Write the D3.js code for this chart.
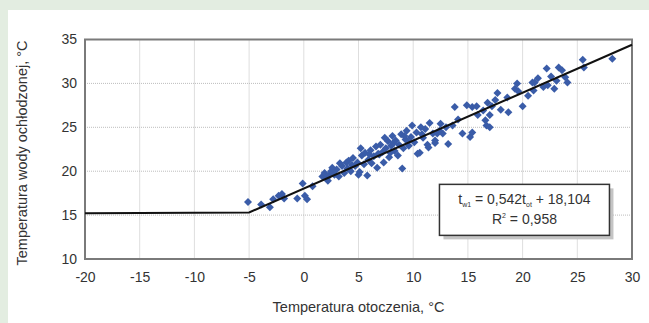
<!DOCTYPE html>
<html>
<head>
<meta charset="utf-8">
<script src="https://cdn.jsdelivr.net/npm/d3@7"></script>
<style>
  body { margin: 0; background: #e3ede1; }
  svg { display: block; }
  text { font-family: "Liberation Sans", Arial, sans-serif; fill: #333; }
</style>
</head>
<body>
<div id="chart"></div>
<script>
// measured points: temperatura otoczenia (x) vs temperatura wody (y)
const tOt = [-5.1,-3.9,-3.1,-2.8,-2.3,-2.0,-1.8,-0.6,-0.1,0.3,0.1,0.8,1.7,1.9,2.1,2.3,2.5,2.2,2.8,3.0,
  3.2,3.5,3.7,4.0,4.1,4.3,4.5,4.7,4.9,5.0,5.1,5.3,5.5,5.6,5.8,5.9,6.1,6.2,6.4,6.6,
  6.7,6.9,7.0,7.2,7.3,7.5,7.7,7.8,8.0,8.1,8.3,8.4,8.6,8.7,8.9,9.0,9.1,9.3,9.4,9.6,
  9.8,9.9,10.1,10.3,10.4,10.6,10.7,10.9,11.1,11.3,11.4,11.5,11.8,12.0,12.0,12.2,12.5,12.7,13.0,13.2,
  13.6,13.8,14.1,14.5,14.9,15.2,15.4,15.4,15.8,15.9,16.4,16.6,16.7,17.0,17.2,17.5,17.7,18.6,18.7,19.3,
  19.5,19.6,20.0,20.9,21.1,21.4,21.9,22.2,22.3,22.9,23.1,23.3,23.6,23.9,24.1,25.5,25.6,28.2,
  2.6,3.9,5.2,6.0,7.4,8.2,9.5,10.8,12.4,6.8,4.4,3.3,7.9,9.2,17.0,16.8,18.0,21.0,22.6,20.5];
const tW = [16.5,16.2,15.9,16.8,17.2,17.4,16.9,16.9,18.6,16.8,17.2,18.3,19.4,19.8,19.2,19.5,20.0,18.9,19.6,20.2,
  19.4,20.6,19.8,20.3,21.2,20.0,21.5,20.6,21.0,19.6,19.9,21.8,20.8,22.1,19.5,21.3,22.4,20.9,21.7,22.8,
  20.4,21.9,23.0,22.2,21.0,22.6,23.4,21.6,22.9,24.0,22.3,23.5,21.8,23.0,24.2,20.3,22.6,23.6,24.6,22.9,
  23.9,25.2,23.3,24.4,22.0,22.1,25.0,23.8,24.8,23.0,22.7,25.5,24.3,23.5,23.2,24.3,25.4,24.3,25.0,23.1,
  25.2,27.3,25.9,24.3,27.5,23.9,24.4,27.3,27.4,26.4,26.9,25.8,25.2,25.0,27.4,28.1,28.9,28.4,26.7,29.4,
  30.0,29.1,27.4,30.1,30.1,30.6,29.6,31.7,29.8,29.4,30.3,31.8,31.5,30.7,30.1,32.7,31.8,32.8,
  20.4,21.0,22.6,21.9,23.8,23.2,23.4,24.2,24.6,22.0,20.7,20.9,22.1,24.0,26.4,27.8,27.0,29.2,30.8,28.6];

// trend line (constant below -5 °C, regression above)
const lineX = [-20, -5, 30];
const lineY = [15.2, 15.3, 34.4];

const xTicks = [-20, -15, -10, -5, 0, 5, 10, 15, 20, 25, 30];
const yTicks = [10, 15, 20, 25, 30, 35];

const W = 649, H = 323;
const margin = {top: 39.5, right: 17, bottom: 64, left: 85},
width = W - margin.left - margin.right,
height = H - margin.top - margin.bottom;

const root = d3.select("#chart").append("svg")
.attr("width", W)
.attr("height", H);

// white panel
root.append("rect").attr("x", 8).attr("y", 10).attr("width", W - 8).attr("height", H - 10).attr("fill", "#fff");

const svg = root.append("g").attr("transform", `translate(${margin.left}, ${margin.top})`);

const x = d3.scaleLinear().domain([-20, 30]).range([0, width]);
const y = d3.scaleLinear().domain([10, 35]).range([height, 0]);

// grid
svg.append("g")
.selectAll("line")
.data(xTicks.slice(1, -1))
.join("line")
.attr("x1", d => x(d)).attr("x2", d => x(d))
.attr("y1", 0).attr("y2", height)
.attr("stroke", "#bdbdbd").attr("stroke-dasharray", "1,1");
svg.append("g")
.selectAll("line")
.data(yTicks.slice(1, -1))
.join("line")
.attr("x1", 0).attr("x2", width)
.attr("y1", d => y(d)).attr("y2", d => y(d))
.attr("stroke", "#bdbdbd").attr("stroke-dasharray", "1,1");

// axes (plain hyphen for negatives, as in the original)
const xAxis = svg.append("g")
.attr("transform", `translate(0, ${height})`)
.call(d3.axisBottom(x).tickValues(xTicks).tickFormat(d => String(d)).tickSize(0).tickPadding(13));
const yAxis = svg.append("g")
.call(d3.axisLeft(y).tickValues(yTicks).tickFormat(d => String(d)).tickSize(0).tickPadding(8));
[xAxis, yAxis].forEach(a => {
  a.select(".domain").remove();
  a.selectAll("text").style("font-size", "14px").attr("fill", "#333")
   .style("font-family", '"Liberation Sans", Arial, sans-serif');
});

// frame
svg.append("rect")
.attr("width", width).attr("height", height)
.attr("fill", "none").attr("stroke", "#7a7a7a").attr("stroke-width", 2);

// points
svg.append("g")
.selectAll("path")
.data(tOt.map((d, i) => [d, tW[i]]))
.join("path")
.attr("d", d3.symbol(d3.symbolSquare, 32))
.attr("transform", d => `translate(${x(d[0])}, ${y(d[1])}) rotate(45)`)
.attr("fill", "#3a5ca8");

// trend line
const line = d3.line().x(d => x(d[0])).y(d => y(d[1]));
svg.append("path")
.datum(lineX.map((d, i) => [d, lineY[i]]))
.attr("d", line)
.attr("fill", "none").attr("stroke", "#111").attr("stroke-width", 2);

// equation box
const bx = x(12.4), by = y(18.5), bw = 170, bh = 51;
svg.append("rect").attr("x", bx + 4).attr("y", by + 4).attr("width", bw).attr("height", bh).attr("fill", "#c4c4c4");
svg.append("rect").attr("x", bx).attr("y", by).attr("width", bw).attr("height", bh)
.attr("fill", "#fff").attr("stroke", "#333").attr("stroke-width", 1.5);
const eq = svg.append("text").attr("x", bx + bw / 2).attr("y", by + 20).attr("text-anchor", "middle").style("font-size", "14px");
eq.append("tspan").text("t");
eq.append("tspan").text("w1").style("font-size", "7px").attr("dy", 3);
eq.append("tspan").text(" = 0,542t").attr("dy", -3);
eq.append("tspan").text("ot").style("font-size", "7px").attr("dy", 3);
eq.append("tspan").text(" + 18,104").attr("dy", -3);
const r2 = svg.append("text").attr("x", bx + bw / 2).attr("y", by + 40).attr("text-anchor", "middle").style("font-size", "14px");
r2.append("tspan").text("R");
r2.append("tspan").text("2").style("font-size", "7px").attr("dy", -6);
r2.append("tspan").text(" = 0,958").attr("dy", 6);

// axis titles
root.append("text")
.attr("x", margin.left + width / 2).attr("y", 312)
.attr("text-anchor", "middle").style("font-size", "14.5px")
.text("Temperatura otoczenia, °C");
root.append("text")
.attr("transform", "translate(27, 153) rotate(-90)")
.attr("text-anchor", "middle").style("font-size", "14.5px")
.text("Temperatura wody ochłodzonej, °C");
</script>
</body>
</html>
